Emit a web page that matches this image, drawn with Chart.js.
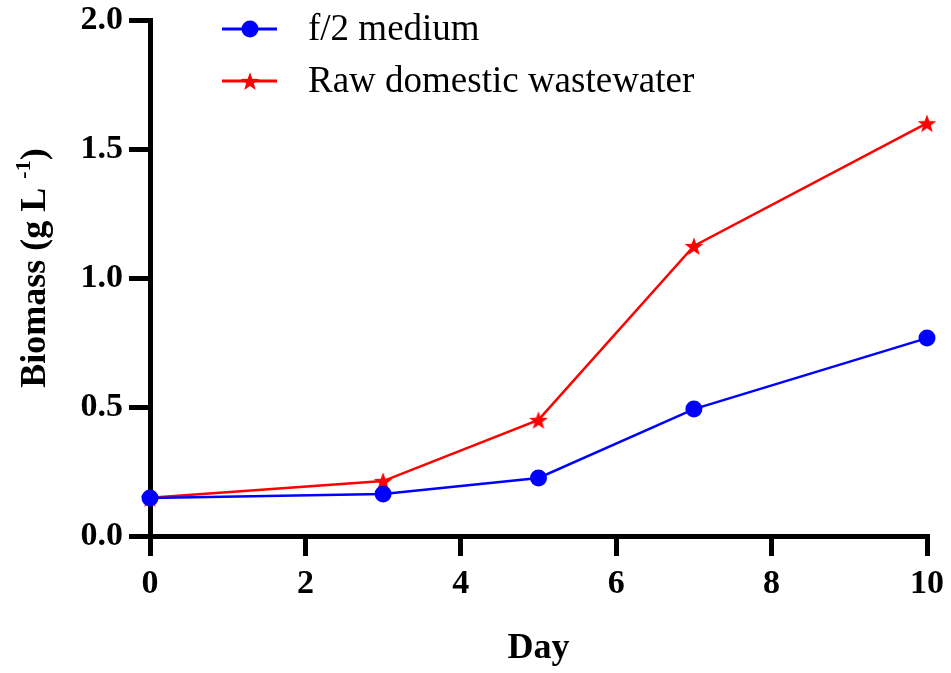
<!DOCTYPE html>
<html>
<head>
<meta charset="utf-8">
<script src="https://cdn.jsdelivr.net/npm/chart.js@4.4.1/dist/chart.umd.min.js"></script>
<style>
  html, body { margin: 0; padding: 0; background: #fff; }
  #wrap { width: 951px; height: 673px; position: relative; }
</style>
</head>
<body>
<div id="wrap"><canvas id="c" width="951" height="673"></canvas></div>
<script>
// ---- data ----
const days = [0, 3, 5, 7, 10];
const f2Medium = [0.147, 0.163, 0.225, 0.492, 0.767];
const rawWastewater = [0.148, 0.213, 0.45, 1.124, 1.60];
const xTickValues = [0, 2, 4, 6, 8, 10];
const yTickValues = [0, 0.5, 1.0, 1.5, 2.0];
const seriesNames = ['f/2 medium', 'Raw domestic wastewater'];
const xTitle = 'Day';
const yTitleMain = 'Biomass (g L ';
const yTitleSup = '-1';
const yTitleEnd = ')';

const SERIF = '"Liberation Serif", "Times New Roman", serif';

function makeStar(color) {
  const s = 24;
  const cv = document.createElement('canvas');
  cv.width = s; cv.height = s;
  const g = cv.getContext('2d');
  const cx = s / 2, cy = s / 2 + 1, R = 9.8, r = 4.0;
  g.beginPath();
  for (let i = 0; i < 10; i++) {
    const a = -Math.PI / 2 + i * Math.PI / 5;
    const rad = i % 2 === 0 ? R : r;
    const px = cx + rad * Math.cos(a), py = cy + rad * Math.sin(a);
    if (i === 0) g.moveTo(px, py); else g.lineTo(px, py);
  }
  g.closePath();
  g.fillStyle = color;
  g.fill();
  return cv;
}
const starImg = makeStar('#ff0000');

const legendPlugin = {
  id: 'customLegend',
  afterDraw(chart) {
    const ctx = chart.ctx;
    const rows = [
      { y: 29, color: '#0000ff', type: 'circle', label: seriesNames[0] },
      { y: 81, color: '#ff0000', type: 'star', label: seriesNames[1] }
    ];
    ctx.save();
    rows.forEach(r => {
      ctx.strokeStyle = r.color;
      ctx.lineWidth = 3;
      ctx.beginPath();
      ctx.moveTo(222, r.y);
      ctx.lineTo(277, r.y);
      ctx.stroke();
      if (r.type === 'circle') {
        ctx.fillStyle = r.color;
        ctx.beginPath();
        ctx.arc(250, r.y, 8.5, 0, Math.PI * 2);
        ctx.fill();
      } else {
        ctx.drawImage(starImg, 250 - 12, r.y - 12);
      }
      ctx.fillStyle = '#000';
      ctx.font = '37px ' + SERIF;
      ctx.textBaseline = 'middle';
      ctx.textAlign = 'left';
      ctx.fillText(r.label, 308, r.y + 1);
    });
    ctx.restore();
  }
};

const yTitlePlugin = {
  id: 'yTitle',
  afterDraw(chart) {
    const ctx = chart.ctx;
    ctx.save();
    ctx.translate(36, 268);
    ctx.rotate(-Math.PI / 2);
    ctx.fillStyle = '#000';
    ctx.textBaseline = 'middle';
    ctx.textAlign = 'left';
    const mainFont = 'bold 36px ' + SERIF;
    const supFont = 'bold 22px ' + SERIF;
    ctx.font = mainFont;
    const w1 = ctx.measureText(yTitleMain).width;
    const w3 = ctx.measureText(yTitleEnd).width;
    ctx.font = supFont;
    const w2 = ctx.measureText(yTitleSup).width;
    const total = w1 + w2 + w3;
    let x = -total / 2;
    ctx.font = mainFont;
    ctx.fillText(yTitleMain, x, 0);
    x += w1;
    ctx.font = supFont;
    ctx.fillText(yTitleSup, x, -12);
    x += w2;
    ctx.font = mainFont;
    ctx.fillText(yTitleEnd, x, 0);
    ctx.restore();
  }
};

new Chart(document.getElementById('c'), {
  type: 'line',
  data: {
    datasets: [
      {
        label: seriesNames[0],
        data: days.map((d, i) => ({ x: d, y: f2Medium[i] })),
        borderColor: '#0000ff',
        backgroundColor: '#0000ff',
        borderWidth: 2.5,
        pointStyle: 'circle',
        pointRadius: 8.5,
        pointHoverRadius: 8.5,
        pointBorderWidth: 0,
        clip: false,
        order: 1
      },
      {
        label: seriesNames[1],
        data: days.map((d, i) => ({ x: d, y: rawWastewater[i] })),
        borderColor: '#ff0000',
        backgroundColor: '#ff0000',
        borderWidth: 2.5,
        pointStyle: starImg,
        pointRadius: 10,
        clip: false,
        order: 2
      }
    ]
  },
  options: {
    responsive: false,
    animation: false,
    events: [],
    layout: { padding: { top: 20, right: 24, left: 0, bottom: 0 } },
    plugins: { legend: { display: false }, tooltip: { enabled: false } },
    scales: {
      x: {
        type: 'linear',
        min: 0, max: 10,
        afterFit(s) { s.height = 137; s.paddingLeft = 0; s.paddingRight = 0; },
        afterBuildTicks(s) { s.ticks = xTickValues.map(v => ({ value: v })); },
        border: { display: true, color: '#000', width: 5 },
        grid: { drawOnChartArea: false, drawTicks: true, tickLength: 20, lineWidth: 5, color: '#000' },
        ticks: {
          color: '#000',
          font: { family: SERIF, size: 34, weight: 'bold' },
          padding: 8,
          maxRotation: 0,
          callback: v => String(v)
        },
        title: {
          display: true,
          text: xTitle,
          color: '#000',
          font: { family: SERIF, size: 36, weight: 'bold' },
          padding: { top: 0, bottom: 3 }
        }
      },
      y: {
        type: 'linear',
        min: 0, max: 2,
        afterFit(s) { s.width = 150; s.paddingTop = 0; s.paddingBottom = 0; },
        afterBuildTicks(s) { s.ticks = yTickValues.map(v => ({ value: v })); },
        border: { display: true, color: '#000', width: 5 },
        grid: { drawOnChartArea: false, drawTicks: true, tickLength: 21, lineWidth: 5, color: '#000' },
        ticks: {
          color: '#000',
          font: { family: SERIF, size: 34, weight: 'bold' },
          padding: 6,
          callback: v => Number(v).toFixed(1)
        }
      }
    }
  },
  plugins: [legendPlugin, yTitlePlugin]
});
</script>
</body>
</html>
